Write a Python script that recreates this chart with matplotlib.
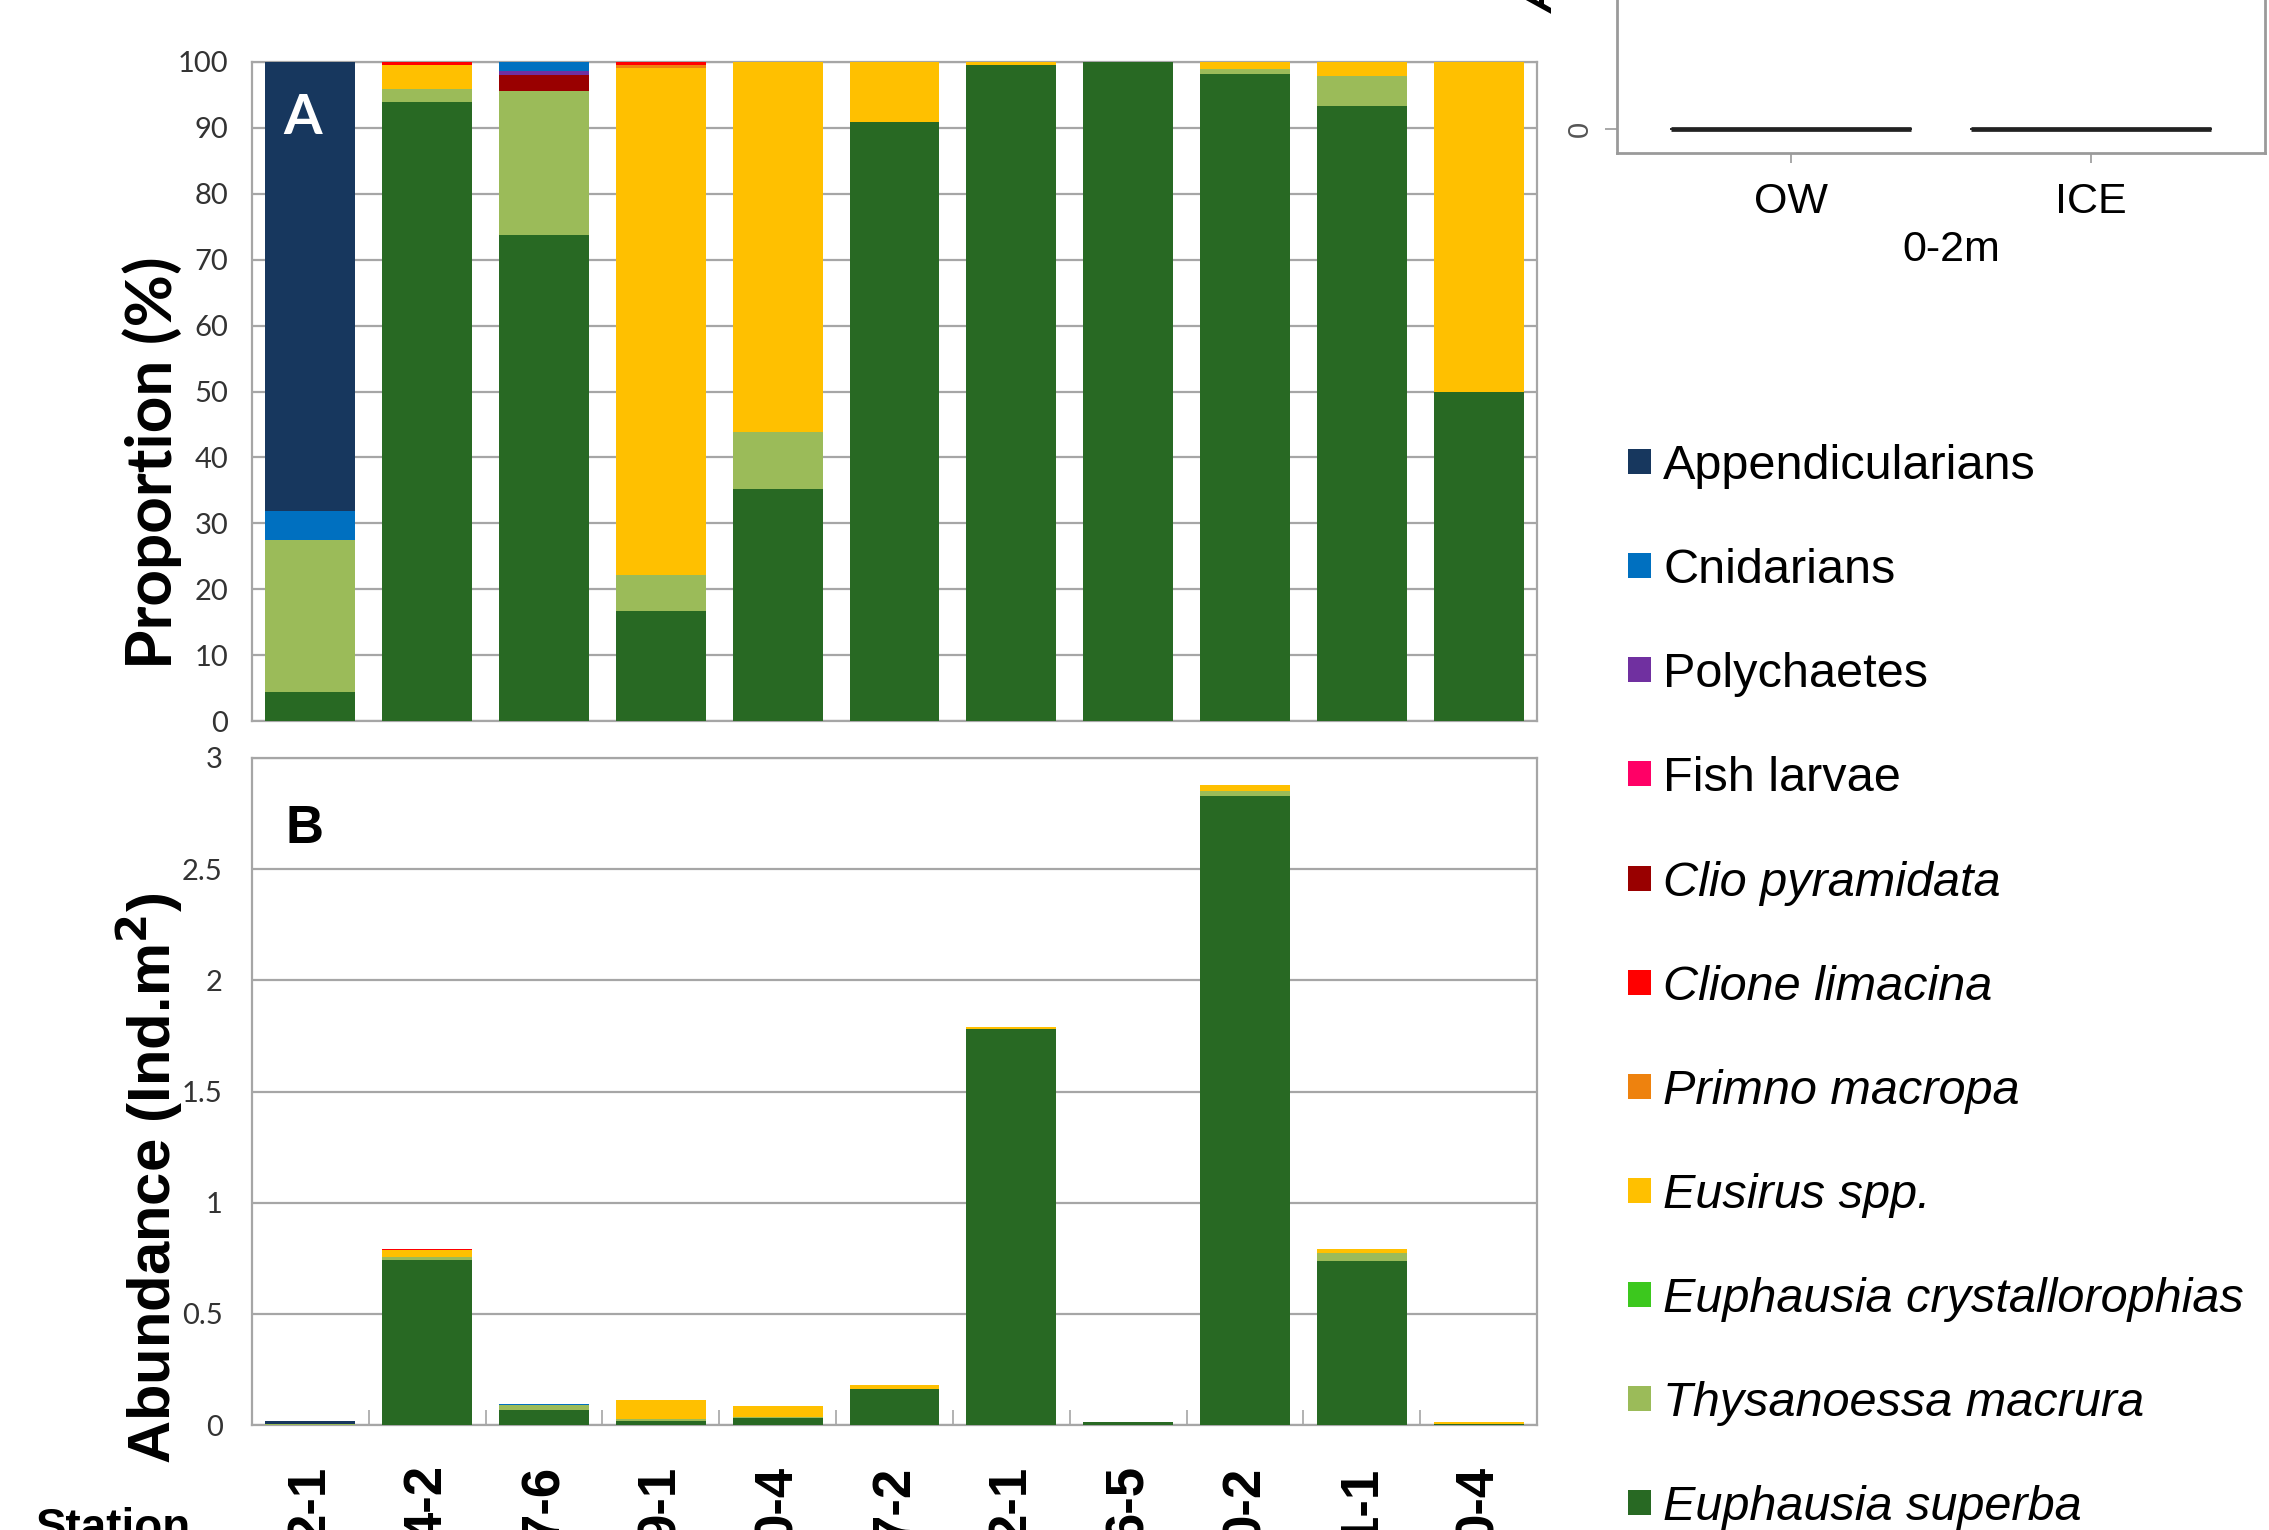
import numpy as np
import matplotlib.pyplot as plt
from matplotlib.patches import Rectangle

plt.rcParams['font.family'] = ['Liberation Sans', 'DejaVu Sans']

W, H = 2269, 1530
DPI = 100

stations = ["2-1", "4-2", "7-6", "9-1", "0-4", "7-2", "2-1", "6-5", "0-2", "1-1", "0-4"]

taxa = ["Appendicularians", "Cnidarians", "Polychaetes", "Fish larvae",
        "Clio pyramidata", "Clione limacina", "Primno macropa", "Eusirus spp.",
        "Euphausia crystallorophias", "Thysanoessa macrura", "Euphausia superba"]
taxa_italic = [False, False, False, False, True, True, True, True, True, True, True]
taxa_colors = ["#17375E", "#0070C0", "#7030A0", "#FF0066",
               "#990000", "#FF0000", "#EE820E", "#FFC000",
               "#3CC81E", "#9BBB59", "#286923"]

# proportion (%) of each taxon per station
superba = [4.4, 93.9, 73.7, 16.7, 35.2, 90.9, 99.6, 100.0, 98.2, 93.3, 50.0]
thysanoessa = [23.0, 2.0, 21.9, 5.4, 8.6, 0, 0, 0, 0.8, 4.6, 0]
crystallorophias = [0, 0, 0, 0, 0, 0, 0, 0, 0, 0, 0]
eusirus = [0, 3.7, 0, 77.0, 56.2, 9.1, 0.4, 0, 1.0, 2.1, 50.0]
primno = [0, 0, 0, 0.4, 0, 0, 0, 0, 0, 0, 0]
clione = [0, 0.4, 0, 0.5, 0, 0, 0, 0, 0, 0, 0]
clio = [0, 0, 2.5, 0, 0, 0, 0, 0, 0, 0, 0]
fish_larvae = [0, 0, 0, 0, 0, 0, 0, 0, 0, 0, 0]
polychaetes = [0, 0, 0.5, 0, 0, 0, 0, 0, 0, 0, 0]
cnidarians = [4.4, 0, 1.4, 0, 0, 0, 0, 0, 0, 0, 0]
appendicularians = [68.2, 0, 0, 0, 0, 0, 0, 0, 0, 0, 0]

# total abundance (Ind.m2) per station
total_abundance = [0.018, 0.79, 0.093, 0.114, 0.084, 0.180, 1.79, 0.012, 2.88, 0.79, 0.012]

# 0-2m abundance by habitat
ow_values = [0, 0, 0, 0, 0]
ice_values = [0, 0, 0, 0, 0, 0]
habitats = ["OW", "ICE"]

stack = [superba, thysanoessa, crystallorophias, eusirus, primno, clione,
         clio, fish_larvae, polychaetes, cnidarians, appendicularians]
stack_colors = taxa_colors[::-1]


def px_axes(fig, left, top, right, bottom):
    return fig.add_axes([left / W, 1 - bottom / H, (right - left) / W, (bottom - top) / H])


fig = plt.figure(figsize=(W / DPI, H / DPI), dpi=DPI)

axA = px_axes(fig, 252, 62, 1537, 721)
axB = px_axes(fig, 252, 758, 1537, 1425)

x = np.arange(len(stations))
total = np.array(total_abundance)
bot_p = np.zeros(len(x))
bot_a = np.zeros(len(x))
for vals, c in zip(stack, stack_colors):
    v = np.array(vals, dtype=float)
    a = total * v / 100.0
    axA.bar(x, v, 0.77, bottom=bot_p, color=c, zorder=3, linewidth=0)
    axB.bar(x, a, 0.77, bottom=bot_a, color=c, zorder=3, linewidth=0)
    bot_p += v
    bot_a += a

grid_c = "#a6a6a6"
for ax in (axA, axB):
    ax.set_xlim(-0.5, len(stations) - 0.5)
    for s in ax.spines.values():
        s.set_color(grid_c)
        s.set_linewidth(1.6)
    ax.yaxis.grid(True, color=grid_c, linewidth=1.6, zorder=0)
    ax.set_axisbelow(True)
    ax.tick_params(axis='y', length=0, labelsize=21, labelcolor="#333333")

axA.set_ylim(0, 100)
axA.set_yticks(np.arange(0, 101, 10))
axA.tick_params(axis='y', pad=17)
axA.set_xticks([])
for lab in axA.get_yticklabels():
    lab.set_family(['Lato', 'DejaVu Sans'])

axB.set_ylim(0, 3)
axB.set_yticks([0, 0.5, 1, 1.5, 2, 2.5, 3])
axB.set_yticklabels(["0", "0.5", "1", "1.5", "2", "2.5", "3"])
axB.tick_params(axis='y', pad=21)
for lab in axB.get_yticklabels():
    lab.set_family(['Lato', 'DejaVu Sans'])
axB.set_xticks(x)
axB.set_xticklabels(stations, rotation=90, fontsize=38, fontweight='bold')
axB.tick_params(axis='x', length=0, pad=29)
axB.set_xticks(np.arange(0.5, len(stations) - 1, 1.0), minor=True)
axB.tick_params(axis='x', which='minor', direction='in', length=11, width=1.2, color=grid_c)

axA.text(0.024, 0.915, "A", transform=axA.transAxes, color="white", fontsize=40,
         fontweight='bold', family=['Lato', 'DejaVu Sans'], ha='left', va='center')
axB.text(0.026, 0.893, "B", transform=axB.transAxes, color="black", fontsize=38,
         fontweight='bold', ha='left', va='center')

fig.text(152 / W, 1 - 463 / H, "Proportion (%)", rotation=90, fontsize=46,
         fontweight='bold', family=['Lato', 'DejaVu Sans'], ha='center', va='center')
fig.text(150 / W, 1 - 1178 / H, "Abundance (Ind.m$^{\\mathbf{2}}$)", rotation=90, fontsize=43,
         fontweight='bold', ha='center', va='center')
fig.text(36 / W, 1 - 1507 / H, "Station", fontsize=33, fontweight='bold',
         ha='left', va='top')

# legend
row_y = [462, 566, 670, 774, 879, 983, 1087, 1191, 1295, 1399, 1503]
for name, c, it, yc in zip(taxa, taxa_colors, taxa_italic, row_y):
    fig.add_artist(Rectangle((1628 / W, 1 - (yc + 12) / H), 23 / W, 25 / H,
                             transform=fig.transFigure, facecolor=c, edgecolor='none'))
    fig.text(1663 / W, 1 - (yc + 17) / H, name, fontsize=35,
             style='italic' if it else 'normal', ha='left', va='baseline')

# boxplot of 0-2m abundance
axC = px_axes(fig, 1617, -300, 2265, 153)
axC.boxplot([ow_values, ice_values], positions=[1, 2], widths=0.8,
            medianprops=dict(color="#222222", linewidth=3.4),
            boxprops=dict(color="#333333", linewidth=1.2),
            whiskerprops=dict(color="#333333"), capprops=dict(color="#333333"),
            showfliers=False)
axC.set_xlim(0.42, 2.58)
axC.set_ylim(-0.056, 1)
axC.set_xticks([1, 2])
axC.set_xticklabels(habitats, fontsize=31)
axC.set_yticks([0])
axC.set_yticklabels(["0"], rotation=90, va='center', fontsize=21, color="#555555")
axC.tick_params(axis='x', length=7, width=1.2, color="#999999", pad=14)
axC.tick_params(axis='y', length=9, width=1.2, color="#999999", pad=8)
for s in axC.spines.values():
    s.set_color("#9a9a9a")
    s.set_linewidth(2)
fig.text(1951 / W, 1 - 250 / H, "0-2m", fontsize=31, ha='center', va='center')
fig.text(1542 / W, 1 - 13 / H, "Abundance", rotation=90, fontsize=30,
         fontweight='bold', style='italic', ha='center', va='bottom')

fig.savefig("out.png", dpi=DPI)
